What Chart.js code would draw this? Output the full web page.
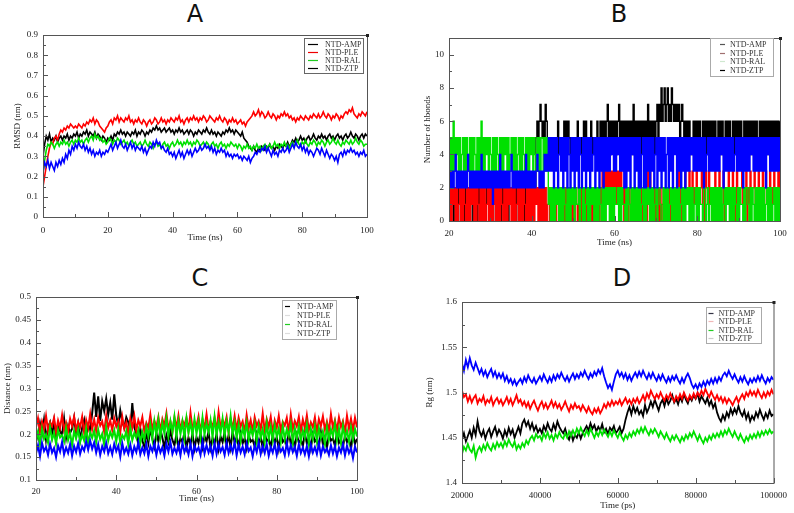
<!DOCTYPE html>
<html>
<head>
<meta charset="utf-8">
<script src="https://cdn.jsdelivr.net/npm/chart.js@4.4.1/dist/chart.umd.min.js"></script>
<style>
  body { margin: 0; background: #fff; width: 794px; height: 513px; position: relative; overflow: hidden; }
  canvas { position: absolute; left: 0; top: 0; }
  .tag { position: absolute; font-family: "DejaVu Sans", sans-serif; font-size: 24px; line-height: 1; color: #111; transform: translateX(-50%); }
</style>
</head>
<body>
<div class="tag" style="left:195px;top:2px">A</div>
<div class="tag" style="left:619px;top:2px">B</div>
<div class="tag" style="left:200px;top:266px">C</div>
<div class="tag" style="left:622px;top:266px">D</div>
<canvas id="cA" width="794" height="513"></canvas>
<canvas id="cB" width="794" height="513"></canvas>
<canvas id="cC" width="794" height="513"></canvas>
<canvas id="cD" width="794" height="513"></canvas>
<script>
// ---------- data ----------
const seriesNames = ['NTD-AMP', 'NTD-PLE', 'NTD-RAL', 'NTD-ZTP'];

// A: RMSD (nm), t = 0..100 ns, every 0.5 ns
const rmsdAmp = [
  .30,.36,.40,.38,.41,.37,.39,.38,.40,.37, .39,.40,.38,.40,.39,.41,.38,.40,.39,.41,
  .40,.42,.39,.41,.40,.42,.41,.43,.40,.42, .41,.40,.42,.39,.41,.40,.38,.40,.39,.37,
  .39,.38,.40,.38,.41,.40,.42,.41,.43,.41, .42,.40,.42,.41,.40,.42,.41,.43,.40,.42,
  .41,.43,.42,.40,.42,.41,.43,.42,.44,.43, .45,.43,.44,.42,.43,.44,.42,.43,.44,.42,
  .43,.41,.43,.42,.44,.42,.43,.41,.42,.43, .41,.43,.42,.40,.42,.41,.43,.42,.41,.43,
  .42,.44,.42,.41,.43,.41,.42,.40,.42,.41, .40,.42,.41,.43,.42,.44,.42,.43,.41,.43,
  .42,.41,.40,.42,.39,.38,.37,.35,.34,.33, .35,.33,.32,.34,.33,.35,.34,.33,.35,.34,
  .36,.34,.35,.33,.35,.34,.36,.35,.34,.36, .35,.37,.35,.36,.38,.37,.39,.37,.38,.40,
  .38,.39,.37,.39,.40,.38,.39,.41,.39,.38, .40,.39,.41,.39,.40,.38,.40,.41,.39,.40,
  .38,.40,.41,.39,.40,.38,.40,.41,.39,.40, .42,.40,.39,.41,.40,.38,.40,.41,.39,.41,
  .40];
const rmsdPle = [
  .15,.20,.25,.30,.34,.37,.36,.39,.40,.38, .41,.43,.42,.44,.43,.45,.44,.46,.45,.44,
  .45,.44,.46,.45,.44,.46,.45,.47,.46,.48, .47,.49,.46,.48,.47,.45,.44,.43,.42,.44,
  .45,.47,.48,.46,.49,.48,.50,.47,.49,.48, .47,.49,.48,.50,.47,.48,.46,.48,.47,.49,
  .47,.46,.48,.47,.45,.47,.48,.46,.47,.49, .48,.46,.47,.49,.47,.48,.46,.48,.47,.49,
  .48,.47,.49,.48,.50,.47,.48,.46,.48,.49, .47,.49,.48,.50,.48,.49,.47,.49,.48,.50,
  .49,.47,.48,.50,.49,.48,.47,.49,.48,.50, .48,.47,.49,.48,.46,.48,.47,.49,.47,.48,
  .46,.47,.48,.46,.47,.45,.47,.48,.49,.50, .52,.50,.51,.53,.50,.52,.51,.49,.50,.52,
  .50,.49,.51,.50,.48,.50,.49,.51,.50,.52, .50,.51,.49,.50,.48,.49,.47,.49,.48,.50,
  .49,.48,.50,.49,.48,.50,.49,.51,.50,.49, .51,.49,.50,.52,.50,.49,.51,.50,.48,.50,
  .49,.51,.50,.48,.50,.49,.51,.52,.51,.53, .52,.54,.51,.50,.49,.51,.50,.52,.51,.50,
  .52];
const rmsdRal = [
  .22,.28,.33,.36,.35,.37,.36,.34,.36,.37, .35,.37,.36,.38,.36,.37,.35,.37,.38,.36,
  .38,.37,.39,.37,.38,.36,.38,.39,.37,.39, .40,.38,.41,.39,.40,.38,.39,.37,.38,.36,
  .37,.39,.38,.36,.38,.37,.39,.38,.36,.37, .38,.36,.37,.35,.37,.38,.36,.37,.35,.36,
  .37,.35,.36,.38,.36,.35,.37,.36,.34,.36, .37,.35,.36,.34,.36,.37,.35,.36,.34,.36,
  .37,.35,.36,.38,.36,.37,.35,.37,.36,.38, .36,.37,.35,.37,.36,.38,.37,.35,.36,.37,
  .35,.37,.36,.34,.36,.37,.35,.36,.34,.36, .37,.35,.36,.34,.36,.35,.37,.36,.35,.36,
  .34,.36,.35,.33,.35,.34,.36,.34,.35,.33, .35,.34,.36,.34,.35,.33,.35,.36,.34,.35,
  .36,.34,.35,.37,.35,.36,.34,.36,.35,.37, .35,.36,.34,.36,.37,.35,.36,.38,.36,.35,
  .37,.36,.38,.36,.35,.37,.36,.38,.37,.35, .37,.36,.38,.37,.35,.37,.38,.36,.37,.39,
  .37,.36,.38,.36,.35,.37,.36,.38,.37,.36, .38,.36,.37,.39,.37,.36,.38,.37,.35,.36,
  .36];
const rmsdZtp = [
  .22,.27,.25,.28,.24,.27,.25,.23,.27,.25, .28,.26,.29,.27,.31,.29,.33,.31,.35,.33,
  .36,.34,.37,.35,.34,.36,.33,.35,.32,.34, .31,.33,.30,.32,.31,.33,.30,.32,.31,.33,
  .32,.34,.36,.33,.35,.37,.34,.36,.38,.35, .34,.36,.33,.35,.37,.34,.36,.33,.35,.34,
  .33,.35,.32,.34,.31,.33,.35,.34,.37,.35, .38,.36,.37,.34,.35,.33,.32,.34,.31,.32,
  .30,.32,.29,.31,.33,.30,.32,.29,.31,.33, .31,.33,.30,.32,.34,.32,.33,.35,.33,.34,
  .36,.34,.35,.33,.35,.32,.34,.31,.33,.32, .34,.32,.33,.30,.32,.30,.31,.29,.31,.30,
  .31,.29,.30,.28,.30,.29,.28,.30,.27,.29, .30,.32,.31,.33,.32,.34,.33,.35,.32,.34,
  .32,.30,.33,.31,.32,.30,.33,.32,.34,.32, .33,.35,.32,.34,.36,.34,.37,.35,.34,.36,
  .33,.35,.32,.34,.31,.33,.32,.30,.32,.34, .33,.31,.34,.32,.30,.33,.31,.29,.31,.30,
  .28,.30,.27,.31,.32,.30,.33,.31,.33,.32, .34,.32,.33,.31,.32,.30,.32,.31,.33,.30,
  .31];

// B: number of hbonds, t = 20..100 ns, every 0.25 ns
const hbAmp = [
  0,2,1,2,0,2,1,0,2,1, 2,0,1,2,0,2,1,2,0,1, 0,2,1,0,2,1,2,0,2,1, 2,1,0,2,1,0,2,1,2,0,
  1,2,0,2,1,0,2,1,0,2, 0,2,1,2,0,1,2,0,2,1, 2,0,1,2,0,2,1,0,2,1, 1,2,0,2,1,2,0,1,2,0,
  2,0,1,2,5,6,5,6,7,6, 5,6,5,7,6,5,4,5,4,5, 4,5,4,5,4,6,4,5,4,5, 4,6,5,6,4,6,5,4,5,4,
  5,4,5,4,6,4,5,4,5,4, 6,4,6,5,4,5,4,6,4,5, 4,5,4,6,4,5,6,4,6,4, 6,4,6,7,4,6,4,6,5,6,
  4,6,4,6,7,4,6,4,6,4, 6,4,6,4,6,5,6,4,7,4, 6,4,6,4,6,4,6,5,6,4, 6,4,7,4,6,4,6,4,6,4,
  6,7,4,7,6,8,6,7,8,6, 7,8,6,7,6,8,7,6,7,6, 7,6,7,4,6,7,6,4,6,4, 6,4,6,4,5,4,6,4,6,4,
  6,4,6,5,4,6,4,6,4,6, 4,6,4,6,4,6,4,6,5,4, 6,4,6,4,6,4,5,6,4,6, 4,6,4,5,6,4,6,4,6,4,
  6,4,6,4,5,6,4,6,4,6, 4,6,4,6,4,6,4,6,4,5, 6,4,6,4,6,5,6,4,6,4, 6,4,6,4,6,4,6,5,6,4,
  6];
const hbPle = [
  0,2,0,2,1,2,0,2,0,1, 2,0,2,0,2,1,0,2,0,2, 0,2,1,2,0,2,0,2,1,0, 2,0,2,0,2,0,1,2,0,2,
  0,2,0,1,2,0,2,0,2,0, 2,1,0,2,0,2,0,2,1,2, 0,2,0,2,0,1,2,0,2,0, 2,0,2,1,0,2,0,2,0,2,
  0,2,0,2,1,2,0,2,0,2, 0,2,0,2,0,1,2,0,2,1, 2,0,2,0,1,2,0,2,0,2, 0,2,0,2,0,2,1,0,2,0,
  2,0,2,1,0,2,0,2,0,2, 0,2,0,2,0,1,2,0,2,0, 2,0,2,0,2,0,2,1,3,1, 3,1,3,1,3,2,3,1,3,1,
  3,1,3,2,3,1,3,1,2,0, 2,0,2,0,2,1,0,2,0,2, 0,2,0,2,0,2,0,1,2,0, 2,0,3,1,3,0,2,0,2,0,
  2,0,2,0,2,0,1,2,0,2, 0,2,0,2,0,2,0,2,1,0, 2,0,3,1,2,0,2,0,3,1, 2,1,3,0,2,3,1,2,1,3,
  1,2,1,2,3,1,2,0,3,2, 1,3,1,2,0,1,2,3,1,2, 1,3,2,1,1,3,0,2,1,2, 3,1,2,1,3,2,0,1,3,1,
  2,1,2,3,1,2,1,3,0,2, 1,3,1,2,2,3,1,2,1,3, 1,2,1,3,1,2,3,1,2,1, 3,1,2,1,3,1,2,2,3,1,
  3];
const hbRal = [
  5,3,5,3,6,3,5,4,5,3, 5,3,4,5,3,5,3,5,4,3, 5,3,5,3,5,4,3,5,3,5, 3,6,3,5,3,5,4,5,3,5,
  4,3,5,3,5,3,5,4,3,5, 3,5,3,5,4,5,3,5,3,4, 5,3,5,3,5,3,4,5,3,5, 3,5,4,3,5,3,5,3,5,4,
  5,3,5,4,3,5,3,5,3,5, 5,3,5,3,5,3,1,2,0,2, 0,2,0,2,1,2,0,2,0,2, 0,2,1,0,2,0,2,0,2,1,
  2,0,2,1,1,2,0,2,2,0, 2,0,1,2,0,2,0,2,1,2, 0,2,0,2,0,2,1,0,2,0, 2,0,2,1,2,0,2,0,2,0,
  2,1,1,2,0,2,0,2,1,1, 0,2,0,2,1,0,2,0,2,0, 2,0,2,0,2,0,1,2,0,2, 0,2,1,2,0,2,0,2,0,1,
  2,0,2,2,1,0,0,2,0,2, 0,2,0,1,2,0,2,0,2,0, 2,0,2,0,1,2,0,2,0,2, 1,2,0,2,0,2,0,1,2,0,
  2,0,2,1,1,0,2,2,0,1, 2,0,1,2,0,2,0,2,0,2, 0,2,0,2,0,1,2,0,2,1, 2,0,2,0,2,0,2,1,0,2,
  0,2,1,1,0,2,0,2,2,1, 0,2,0,2,1,0,2,0,2,0, 2,0,2,0,2,0,1,2,0,2, 0,2,0,1,2,0,2,0,2,0,
  2];
const hbZtp = [
  2,3,2,3,2,3,4,2,3,2, 3,2,3,2,3,2,3,2,4,3, 2,3,2,3,2,3,2,3,2,3, 2,4,2,3,2,3,2,3,2,3,
  2,3,1,3,2,3,2,3,2,4, 2,3,2,3,2,3,2,3,2,3, 4,2,3,2,3,2,3,2,3,2, 3,2,3,2,4,2,3,2,3,2,
  3,2,3,2,3,4,3,2,3,2, 3,2,4,3,4,3,5,3,5,3, 5,2,5,3,5,2,4,5,3,5, 2,5,3,5,2,5,4,2,5,3,
  5,2,5,3,5,2,5,4,2,5, 3,5,2,5,3,5,2,5,3,4, 5,2,5,3,5,2,5,3,5,2, 5,3,5,3,5,3,5,4,5,3,
  5,3,5,4,5,3,5,3,5,2, 5,2,5,3,5,2,5,4,5,2, 5,3,5,2,5,2,4,5,2,5, 2,5,3,5,2,5,3,5,2,4,
  5,2,5,3,5,2,5,3,5,2, 4,5,2,5,3,5,2,5,4,5, 2,5,3,5,2,5,3,5,2,5, 3,5,3,5,4,5,3,5,3,5,
  3,5,3,5,3,5,2,5,3,4, 5,3,5,3,5,3,5,3,5,3, 5,3,5,4,5,2,5,3,5,3, 5,3,5,3,5,3,4,5,3,5,
  3,5,3,5,2,5,3,5,3,5, 3,5,4,5,3,5,3,5,3,5, 3,5,3,5,3,5,2,5,4,5, 3,5,3,5,3,5,3,5,3,5,
  3];

// C: distance (nm), t = 20..100 ns, every 0.5 ns
const distAmp = [
  .211,.193,.224,.201,.232,.188,.215,.226,.197,.229, .190,.221,.207,.198,.234,.192,.218,.203,.212,.236,
  .199,.223,.187,.214,.231,.196,.220,.209,.246,.291, .238,.283,.229,.272,.251,.278,.243,.269,.232,.287,
  .241,.219,.252,.228,.214,.237,.226,.208,.268,.215, .201,.178,.212,.186,.173,.204,.181,.213,.190,.172,
  .203,.184,.211,.192,.171,.198,.182,.209,.187,.176, .199,.172,.191,.183,.204,.171,.193,.178,.201,.169,
  .194,.181,.203,.172,.196,.184,.206,.170,.192,.179, .201,.168,.195,.183,.204,.176,.198,.171,.207,.182,
  .193,.174,.202,.180,.191,.169,.199,.184,.188,.173, .200,.179,.193,.170,.203,.185,.190,.172,.198,.181,
  .194,.168,.201,.183,.189,.175,.204,.179,.192,.171, .199,.182,.188,.174,.202,.180,.193,.169,.200,.184,
  .190,.173,.205,.178,.194,.170,.199,.186,.191,.175, .203,.181,.189,.172,.197,.183,.192,.168,.201,.179,
  .190];
const distPle = [
  .215,.235,.205,.228,.212,.240,.208,.226,.218,.236, .204,.230,.214,.242,.210,.225,.206,.234,.218,.238,
  .209,.227,.216,.238,.203,.231,.213,.244,.211,.232, .207,.236,.219,.228,.205,.241,.214,.230,.209,.235,
  .217,.229,.204,.238,.212,.226,.201,.234,.215,.240, .208,.231,.218,.237,.206,.225,.214,.243,.210,.229,
  .216,.238,.207,.233,.219,.246,.211,.228,.205,.237, .214,.241,.209,.230,.220,.236,.206,.247,.212,.227,
  .218,.239,.205,.232,.213,.244,.210,.228,.216,.236, .207,.248,.214,.231,.219,.238,.204,.233,.212,.240,
  .209,.236,.217,.228,.204,.242,.213,.231,.206,.237, .218,.229,.210,.245,.207,.233,.216,.238,.203,.230,
  .214,.240,.208,.227,.219,.236,.205,.243,.211,.229, .217,.238,.206,.232,.213,.241,.209,.226,.215,.237,
  .204,.233,.218,.239,.210,.228,.207,.244,.214,.231, .208,.237,.216,.229,.203,.240,.212,.234,.209,.236,
  .215];
const distRal = [
  .185,.205,.178,.212,.190,.200,.182,.215,.188,.203, .179,.209,.193,.198,.184,.214,.187,.202,.176,.207,
  .191,.211,.183,.199,.186,.213,.180,.204,.192,.208, .182,.210,.189,.201,.177,.215,.186,.205,.193,.209,
  .184,.212,.181,.198,.190,.207,.178,.214,.187,.203, .192,.210,.180,.205,.188,.216,.195,.222,.190,.228,
  .198,.232,.193,.225,.201,.236,.196,.228,.204,.238, .195,.230,.200,.227,.192,.235,.203,.226,.197,.233,
  .201,.229,.194,.236,.199,.224,.205,.231,.193,.238, .198,.227,.202,.234,.196,.229,.204,.240,.199,.225,
  .192,.221,.186,.215,.195,.225,.188,.213,.197,.222, .185,.218,.193,.212,.181,.224,.190,.216,.187,.220,
  .194,.213,.183,.219,.189,.211,.196,.222,.182,.214, .191,.217,.185,.209,.193,.221,.180,.212,.190,.218,
  .184,.214,.192,.207,.179,.216,.188,.211,.195,.223, .186,.213,.181,.219,.192,.208,.184,.215,.189,.212,
  .195];
const distZtp = [
  .158,.176,.152,.181,.163,.172,.155,.179,.160,.170, .150,.175,.162,.183,.156,.171,.159,.178,.153,.174,
  .161,.180,.157,.173,.164,.184,.166,.186,.168,.182, .160,.178,.155,.174,.162,.181,.158,.172,.156,.179,
  .163,.175,.151,.180,.159,.170,.157,.177,.154,.173, .161,.182,.156,.171,.158,.178,.152,.174,.163,.180,
  .155,.176,.160,.172,.153,.179,.162,.183,.157,.170, .159,.177,.154,.181,.161,.173,.156,.179,.152,.175,
  .163,.171,.155,.184,.158,.176,.160,.174,.153,.180, .157,.178,.162,.172,.155,.181,.159,.175,.161,.183,
  .154,.177,.160,.173,.156,.180,.163,.171,.152,.176, .161,.182,.157,.174,.159,.178,.153,.172,.160,.179,
  .155,.175,.162,.170,.154,.181,.158,.176,.161,.173, .153,.178,.159,.171,.156,.174,.152,.177,.160,.172,
  .157,.180,.154,.173,.161,.169,.155,.176,.158,.174, .152,.171,.160,.178,.154,.175,.159,.170,.148,.173,
  .160];

// D: Rg (nm), t = 20000..100000 ps, every 500 ps
const rgAmp = [
  1.448,1.455,1.446,1.452,1.458,1.450,1.461,1.453,1.468,1.457, 1.452,1.458,1.449,1.456,1.460,1.451,1.457,1.462,1.453,1.459,
  1.455,1.449,1.458,1.452,1.461,1.454,1.459,1.450,1.456,1.462, 1.455,1.466,1.470,1.463,1.468,1.460,1.466,1.458,1.463,1.456,
  1.460,1.455,1.463,1.458,1.466,1.460,1.457,1.465,1.459,1.468, 1.462,1.458,1.455,1.460,1.452,1.448,1.455,1.447,1.453,1.450,
  1.456,1.449,1.455,1.459,1.463,1.458,1.466,1.460,1.464,1.457, 1.462,1.458,1.465,1.456,1.460,1.454,1.461,1.458,1.463,1.455,
  1.458,1.462,1.455,1.460,1.470,1.478,1.484,1.476,1.485,1.478, 1.483,1.476,1.480,1.474,1.486,1.478,1.483,1.490,1.484,1.492,
  1.486,1.480,1.488,1.492,1.485,1.494,1.487,1.491,1.497,1.489, 1.493,1.487,1.495,1.490,1.498,1.492,1.488,1.495,1.491,1.497,
  1.493,1.499,1.490,1.496,1.492,1.488,1.494,1.486,1.491,1.483, 1.488,1.478,1.472,1.468,1.475,1.470,1.478,1.473,1.482,1.476,
  1.482,1.477,1.485,1.478,1.474,1.480,1.471,1.477,1.468,1.474, 1.470,1.478,1.473,1.481,1.475,1.470,1.477,1.472,1.480,1.474,
  1.476];
const rgPle = [
  1.502,1.495,1.498,1.490,1.496,1.489,1.494,1.497,1.488,1.493, 1.490,1.496,1.487,1.492,1.489,1.495,1.486,1.491,1.494,1.488,
  1.492,1.486,1.490,1.495,1.488,1.493,1.486,1.491,1.497,1.489, 1.492,1.486,1.490,1.484,1.489,1.482,1.487,1.491,1.485,1.480,
  1.486,1.490,1.483,1.488,1.482,1.486,1.491,1.484,1.489,1.483, 1.487,1.481,1.485,1.490,1.484,1.479,1.486,1.482,1.488,1.483,
  1.485,1.480,1.486,1.482,1.478,1.484,1.479,1.476,1.482,1.478, 1.483,1.477,1.481,1.487,1.483,1.489,1.485,1.491,1.486,1.490,
  1.487,1.492,1.486,1.490,1.494,1.488,1.492,1.487,1.493,1.489, 1.494,1.488,1.492,1.497,1.491,1.499,1.494,1.502,1.497,1.493,
  1.498,1.494,1.500,1.495,1.491,1.497,1.493,1.499,1.494,1.490, 1.496,1.492,1.498,1.493,1.500,1.495,1.491,1.497,1.493,1.499,
  1.494,1.500,1.496,1.502,1.497,1.504,1.499,1.495,1.501,1.496, 1.492,1.497,1.491,1.495,1.489,1.494,1.488,1.493,1.490,1.486,
  1.491,1.495,1.489,1.494,1.498,1.493,1.500,1.496,1.502,1.497, 1.501,1.496,1.503,1.498,1.494,1.500,1.495,1.501,1.497,1.503,
  1.498];
const rgRal = [
  1.432,1.440,1.436,1.443,1.437,1.434,1.441,1.428,1.436,1.440, 1.435,1.442,1.437,1.444,1.439,1.436,1.443,1.438,1.445,1.440,
  1.444,1.439,1.446,1.441,1.448,1.443,1.440,1.446,1.437,1.442, 1.438,1.444,1.440,1.447,1.443,1.449,1.452,1.447,1.454,1.450,
  1.452,1.447,1.455,1.450,1.456,1.449,1.453,1.447,1.454,1.450, 1.456,1.451,1.449,1.455,1.450,1.457,1.452,1.458,1.453,1.460,
  1.455,1.461,1.456,1.452,1.458,1.453,1.460,1.455,1.450,1.456, 1.452,1.458,1.453,1.459,1.455,1.451,1.457,1.452,1.458,1.454,
  1.450,1.456,1.451,1.447,1.453,1.449,1.455,1.451,1.457,1.453, 1.459,1.455,1.461,1.456,1.462,1.457,1.453,1.459,1.455,1.460,
  1.456,1.451,1.457,1.453,1.449,1.455,1.450,1.446,1.452,1.448, 1.453,1.449,1.445,1.451,1.447,1.453,1.449,1.455,1.451,1.457,
  1.452,1.447,1.453,1.448,1.444,1.450,1.446,1.452,1.448,1.454, 1.450,1.455,1.451,1.457,1.452,1.458,1.454,1.460,1.455,1.451,
  1.457,1.452,1.448,1.454,1.449,1.445,1.451,1.447,1.453,1.449, 1.454,1.450,1.456,1.451,1.457,1.453,1.458,1.454,1.459,1.455,
  1.457];
const rgZtp = [
  1.532,1.524,1.536,1.528,1.538,1.530,1.525,1.533,1.527,1.521, 1.526,1.519,1.524,1.517,1.522,1.526,1.518,1.523,1.516,1.521,
  1.516,1.521,1.513,1.518,1.511,1.515,1.509,1.514,1.508,1.512, 1.515,1.510,1.517,1.512,1.519,1.514,1.511,1.516,1.510,1.514,
  1.518,1.513,1.520,1.515,1.511,1.517,1.512,1.519,1.514,1.520, 1.516,1.522,1.517,1.513,1.518,1.512,1.517,1.521,1.515,1.520,
  1.516,1.522,1.518,1.524,1.519,1.515,1.521,1.517,1.523,1.519, 1.525,1.521,1.527,1.518,1.511,1.505,1.509,1.503,1.512,1.520,
  1.524,1.518,1.522,1.516,1.521,1.514,1.519,1.513,1.518,1.522, 1.517,1.523,1.518,1.524,1.519,1.515,1.521,1.516,1.522,1.517,
  1.513,1.519,1.514,1.520,1.515,1.511,1.517,1.512,1.518,1.514, 1.519,1.514,1.510,1.516,1.511,1.517,1.521,1.516,1.509,1.505,
  1.509,1.504,1.510,1.506,1.512,1.507,1.513,1.509,1.515,1.510, 1.516,1.511,1.517,1.513,1.519,1.522,1.518,1.524,1.519,1.515,
  1.520,1.515,1.511,1.517,1.512,1.518,1.513,1.509,1.515,1.511, 1.516,1.512,1.518,1.513,1.519,1.514,1.510,1.516,1.512,1.517,
  1.514];

// tick values
const xTicksA = [0, 20, 40, 60, 80, 100];
const yTicksA = [0, 0.1, 0.2, 0.3, 0.4, 0.5, 0.6, 0.7, 0.8, 0.9];
const xTicksB = [20, 40, 60, 80, 100];
const yTicksB = [0, 2, 4, 6, 8, 10];
const xTicksC = [20, 40, 60, 80, 100];
const yTicksC = [0.1, 0.15, 0.2, 0.25, 0.3, 0.35, 0.4, 0.45, 0.5];
const xTicksD = [20000, 40000, 60000, 80000, 100000];
const yTicksD = [1.4, 1.45, 1.5, 1.55, 1.6];

// ---------- look ----------
const lineColors = ['#000000', '#ff0000', '#00e000', '#0000ff'];
const SERIF = '"Liberation Serif", "Times New Roman", serif';

// box + inward ticks like xmgrace
const frame = {
  id: 'frame',
  afterDatasetsDraw(chart) {
    const { ctx, chartArea: a, scales: { x, y } } = chart;
    ctx.save();
    ctx.strokeStyle = '#555'; ctx.lineWidth = 1;
    ctx.strokeRect(a.left + .5, a.top + .5, a.right - a.left, a.bottom - a.top);
    ctx.beginPath();
    const xs = x.ticks.map(t => t.value), ys = y.ticks.map(t => t.value);
    xs.forEach((v, i) => {
      const p = Math.round(x.getPixelForValue(v)) + .5;
      ctx.moveTo(p, a.bottom); ctx.lineTo(p, a.bottom - 5);
      if (i < xs.length - 1) {
        const m = Math.round(x.getPixelForValue((v + xs[i + 1]) / 2)) + .5;
        ctx.moveTo(m, a.bottom); ctx.lineTo(m, a.bottom - 3);
      }
    });
    ys.forEach((v, i) => {
      const p = Math.round(y.getPixelForValue(v)) + .5;
      ctx.moveTo(a.left, p); ctx.lineTo(a.left + 5, p);
      if (i < ys.length - 1) {
        const m = Math.round(y.getPixelForValue((v + ys[i + 1]) / 2)) + .5;
        ctx.moveTo(a.left, m); ctx.lineTo(a.left + 3, m);
      }
    });
    ctx.stroke();
    ctx.fillStyle = '#222';
    ctx.fillRect(a.right - 1, a.top - 1, 3, 3);
    ctx.restore();
  }
};

// small boxed legend inside the plot (top right)
const boxLegend = {
  id: 'boxLegend',
  afterDraw(chart, args, o) {
    const { ctx, chartArea: a } = chart;
    const bx = a.right - o.dr - o.w, by = a.top + o.dt;
    ctx.save();
    ctx.fillStyle = '#fff';
    ctx.fillRect(bx, by, o.w, o.h);
    ctx.strokeStyle = o.border; ctx.lineWidth = 1;
    ctx.strokeRect(Math.round(bx) + .5, Math.round(by) + .5, o.w, o.h);
    ctx.font = '8px ' + SERIF;
    ctx.textBaseline = 'middle';
    chart.data.datasets.forEach((d, i) => {
      const yy = Math.round(by + o.first + i * o.gap) + .5;
      ctx.strokeStyle = o.colors[i]; ctx.lineWidth = 1.2;
      ctx.beginPath(); ctx.moveTo(bx + o.l0, yy); ctx.lineTo(bx + o.l1, yy); ctx.stroke();
      ctx.fillStyle = '#333';
      ctx.fillText(d.label, bx + o.tx, yy);
    });
    ctx.restore();
  }
};

function panel(id, p) {
  return new Chart(document.getElementById(id), {
    type: 'line',
    data: {
      datasets: p.series.map((vals, i) => ({
        label: seriesNames[i],
        data: vals.map((v, k) => ({ x: p.t0 + k * p.dt, y: v })),
        borderColor: lineColors[i],
        borderWidth: p.lw,
        pointRadius: 0,
        stepped: p.stepped || false,
        order: 4 - i
      }))
    },
    options: {
      responsive: false,
      animation: false,
      events: [],
      layout: { padding: p.pad },
      plugins: { legend: { display: false }, tooltip: { enabled: false }, boxLegend: p.legend },
      scales: {
        x: {
          type: 'linear', min: p.xr[0], max: p.xr[1],
          afterBuildTicks: s => { s.ticks = p.xt.map(v => ({ value: v })); },
          afterFit: s => { s.height = p.xh; },
          grid: { display: false, drawTicks: false }, border: { display: false },
          ticks: { autoSkip: false, maxRotation: 0, padding: p.xpad, color: '#222', font: { family: SERIF, size: 9 }, callback: v => String(v) },
          title: { display: true, text: p.xTitle, color: '#222', font: { family: SERIF, size: 9 }, padding: { top: 0, bottom: p.xtp } }
        },
        y: {
          type: 'linear', min: p.yr[0], max: p.yr[1],
          afterBuildTicks: s => { s.ticks = p.yt.map(v => ({ value: v })); },
          afterFit: s => { s.width = p.yw; },
          grid: { display: false, drawTicks: false }, border: { display: false },
          ticks: { autoSkip: false, padding: 5, color: '#222', font: { family: SERIF, size: 9 }, callback: v => String(v) },
          title: { display: true, text: p.yTitle, color: '#222', font: { family: SERIF, size: 9 }, padding: { top: p.ytp, bottom: 0 } }
        }
      }
    },
    plugins: [frame, boxLegend]
  });
}

panel('cA', {
  series: [rmsdAmp, rmsdPle, rmsdRal, rmsdZtp], t0: 0, dt: 0.5, lw: 1.6,
  xr: [0, 100], yr: [0, 0.9], xt: xTicksA, yt: yTicksA,
  xTitle: 'Time (ns)', yTitle: 'RMSD (nm)',
  pad: { left: 8, top: 35, right: 427, bottom: 266 }, yw: 35, xh: 30, xpad: 8, xtp: 4, ytp: 4,
  legend: { dr: 4, dt: 3, w: 59, h: 35, first: 6, gap: 8, l0: 4, l1: 14, tx: 21, border: '#666',
            colors: ['#000', '#e00', '#2c2', '#000'] }
});

panel('cB', {
  series: [hbAmp, hbPle, hbRal, hbZtp], t0: 20, dt: 0.25, lw: 1.4, stepped: true,
  xr: [20, 100], yr: [0, 11], xt: xTicksB, yt: yTicksB,
  xTitle: 'Time (ns)', yTitle: 'Number of hbonds',
  pad: { left: 418, top: 38, right: 14, bottom: 261 }, yw: 31, xh: 31, xpad: 7, xtp: 4, ytp: 4,
  legend: { dr: 7, dt: 0, w: 63, h: 38, first: 6, gap: 8.7, l0: 10, l1: 15, tx: 20, border: '#aaa',
            colors: ['#555', '#a07070', '#cfe8cf', '#000'] }
});

panel('cC', {
  series: [distAmp, distPle, distRal, distZtp], t0: 20, dt: 0.5, lw: 2,
  xr: [20, 100], yr: [0.1, 0.5], xt: xTicksC, yt: yTicksC,
  xTitle: 'Time (ns)', yTitle: 'Distance (nm)',
  pad: { left: 2, top: 297, right: 437, bottom: 5 }, yw: 34, xh: 28, xpad: 6, xtp: 4, ytp: 0,
  legend: { dr: 21, dt: 3, w: 54, h: 39, first: 6, gap: 9, l0: 3, l1: 8, tx: 15, border: '#aaa',
            colors: ['#000', '#ddd', '#2c2', '#ddd'] }
});

panel('cD', {
  series: [rgAmp, rgPle, rgRal, rgZtp], t0: 20000, dt: 500, lw: 1.8,
  xr: [20000, 100000], yr: [1.4, 1.6], xt: xTicksD, yt: yTicksD,
  xTitle: 'Time (ps)', yTitle: 'Rg (nm)',
  pad: { left: 420, top: 302, right: 14, bottom: 0 }, yw: 42, xh: 30, xpad: 7, xtp: 2, ytp: 4,
  legend: { dr: 13, dt: 5, w: 55, h: 36, first: 5.5, gap: 8.5, l0: 3, l1: 8, tx: 13, border: '#aaa',
            colors: ['#334', '#f0b8b8', '#2c2', '#ccc'] }
});
</script>
</body>
</html>
